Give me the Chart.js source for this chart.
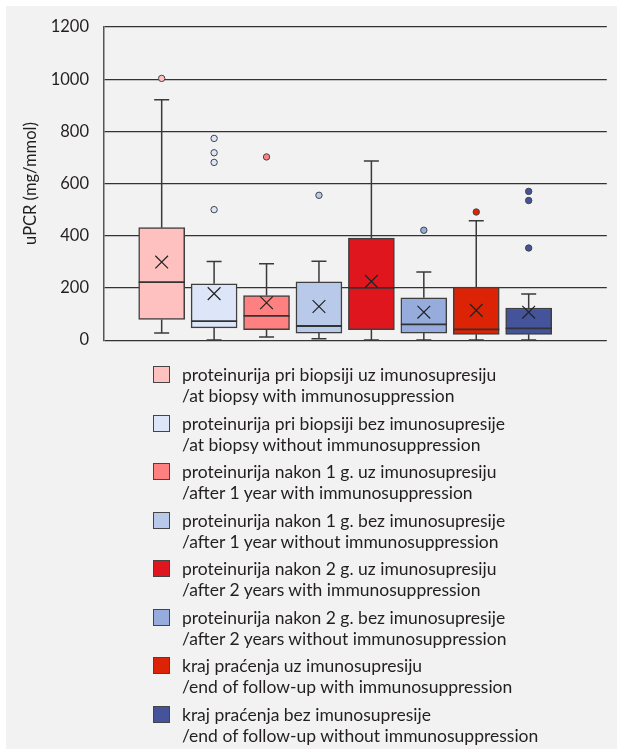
<!DOCTYPE html>
<html>
<head>
<meta charset="utf-8">
<script src="https://cdn.jsdelivr.net/npm/chart.js@4/dist/chart.umd.min.js"></script>
<style>
	html, body { margin: 0; padding: 0; background: #fff; }
	body { width: 617px; height: 749px; position: relative; overflow: hidden; font-family: Lato, sans-serif; }
	#bg { position: absolute; left: 6px; top: 6px; right: 0; bottom: 0; background: #f2f2f2; }
	#boxChart { position: absolute; left: 0; top: 0; }
	#legend { position: absolute; left: 0; top: 0; }
	.item { position: absolute; left: 153px; }
	.sw { position: absolute; left: 0; top: 1px; width: 15px; height: 15px; border: 1.5px solid #444; }
	.txt { position: absolute; left: 29px; top: -1px; white-space: nowrap; font-size: 17.5px; line-height: 21px; color: #231f20; }
</style>
</head>
<body>
<div id="bg"></div>
<canvas id="boxChart" width="617" height="365"></canvas>
<div id="legend"></div>
<script>
// podaci očitani sa slike
const categories = [
	["proteinurija pri biopsiji uz imunosupresiju", "/at biopsy with immunosuppression"],
	["proteinurija pri biopsiji bez imunosupresije", "/at biopsy without immunosuppression"],
	["proteinurija nakon 1 g. uz imunosupresiju", "/after 1 year with immunosuppression"],
	["proteinurija nakon 1 g. bez imunosupresije", "/after 1 year without immunosuppression"],
	["proteinurija nakon 2 g. uz imunosupresiju", "/after 2 years with immunosuppression"],
	["proteinurija nakon 2 g. bez imunosupresije", "/after 2 years without immunosuppression"],
	["kraj praćenja uz imunosupresiju", "/end of follow-up with immunosuppression"],
	["kraj praćenja bez imunosupresije", "/end of follow-up without immunosuppression"],
];
const whiskerLow = [27, 0, 12, 5, 0, 0, 0, 0];
const q1 = [79, 47, 40, 27, 40, 27, 22, 22];
const median = [222, 73, 93, 54, 200, 60, 41, 45];
const q3 = [431, 216, 171, 223, 391, 162, 203, 123];
const whiskerHigh = [921, 301, 293, 302, 686, 261, 457, 177];
const means = [299, 178, 143, 129, 225, 107, 114, 107];
const outliers = [[1003], [773, 718, 681, 500], [702], [555], [], [421], [491], [570, 535, 353]];
const yTicks = [0, 200, 400, 600, 800, 1000, 1200];

const colors = ["#ffc0c0", "#dce6f8", "#ff8080", "#b8c9ea", "#e0161f", "#95acdc", "#dd2305", "#44539a"];

const boxData = categories.map((c, i) => ({ x: i + 1, y: [q1[i], q3[i]] }));
const meanData = means.map((m, i) => ({ x: i + 1, y: m }));
const outlierData = [];
const outlierColors = [];
outliers.forEach((list, i) => {
	list.forEach((v) => {
		outlierData.push({ x: i + 1, y: v });
		outlierColors.push(colors[i]);
	});
});

// brkovi i medijani
const boxParts = {
	id: "boxParts",
	beforeDatasetsDraw(chart) {
		const { ctx, scales: { x, y } } = chart;
		ctx.save();
		ctx.strokeStyle = "#3a3a3a";
		ctx.lineWidth = 1.5;
		categories.forEach((c, i) => {
			const px = x.getPixelForValue(i + 1);
			const pairs = [[q3[i], whiskerHigh[i]], [q1[i], whiskerLow[i]]];
			pairs.forEach(([from, to]) => {
				const y1 = y.getPixelForValue(from);
				const y2 = y.getPixelForValue(to);
				ctx.beginPath();
				ctx.moveTo(px, y1);
				ctx.lineTo(px, y2);
				ctx.moveTo(px - 7.5, y2);
				ctx.lineTo(px + 7.5, y2);
				ctx.stroke();
			});
		});
		ctx.restore();
	},
	afterDatasetDraw(chart, args) {
		if (args.index !== 0) return;
		const { ctx, scales: { y } } = chart;
		const meta = chart.getDatasetMeta(0);
		ctx.save();
		ctx.strokeStyle = "#333";
		ctx.lineWidth = 1.8;
		meta.data.forEach((bar, i) => {
			const py = y.getPixelForValue(median[i]);
			ctx.beginPath();
			ctx.moveTo(bar.x - bar.width / 2, py);
			ctx.lineTo(bar.x + bar.width / 2, py);
			ctx.stroke();
		});
		ctx.restore();
	},
};

const config = {
	type: "bar",
	data: {
		datasets: [
			{
				data: boxData,
				backgroundColor: colors,
				borderColor: "#3f3f3f",
				borderWidth: 1.5,
				borderSkipped: false,
				barThickness: 46,
				order: 3,
			},
			{
				type: "scatter",
				data: outlierData,
				pointRadius: 3.2,
				pointBackgroundColor: outlierColors,
				pointBorderColor: "#444",
				pointBorderWidth: 1,
				order: 2,
			},
			{
				type: "scatter",
				data: meanData,
				pointStyle: "crossRot",
				pointRadius: 9,
				pointBorderColor: "#222",
				pointBorderWidth: 1.2,
				order: 1,
			},
		],
	},
	options: {
		responsive: false,
		animation: false,
		layout: {
			padding: { top: 27, right: 2, bottom: 0, left: 0 },
		},
		scales: {
			x: {
				type: "linear",
				min: -0.1,
				max: 9.49,
				offset: false,
				display: false,
				grid: { display: false },
			},
			y: {
				min: 0,
				max: 1200,
				afterBuildTicks(scale) {
					scale.ticks = yTicks.map((v) => ({ value: v }));
				},
				afterFit(scale) {
					scale.width = 104;
				},
				grid: {
					color: "#333",
					lineWidth: 1.2,
					drawTicks: false,
				},
				border: { display: true, color: "#555", width: 1.5 },
				ticks: {
					padding: 15,
					color: "#231f20",
					font: { family: "Lato", size: 16.5 },
					callback: (v) => String(v),
				},
				title: {
					display: true,
					text: "uPCR (mg/mmol)",
					color: "#231f20",
					font: { family: "Lato", size: 16.5 },
					padding: { top: 21, bottom: 0 },
				},
			},
		},
		plugins: {
			legend: { display: false },
			tooltip: { enabled: false },
		},
		hover: { mode: null },
	},
	plugins: [boxParts],
};

new Chart(document.getElementById("boxChart"), config);

// legenda
const legend = document.getElementById("legend");
categories.forEach((lines, i) => {
	const item = document.createElement("div");
	item.className = "item";
	item.style.top = 365 + i * 48.5 + "px";
	const sw = document.createElement("div");
	sw.className = "sw";
	sw.style.background = colors[i];
	const txt = document.createElement("div");
	txt.className = "txt";
	txt.innerHTML = lines.join("<br>");
	item.appendChild(sw);
	item.appendChild(txt);
	legend.appendChild(item);
});
</script>
</body>
</html>
